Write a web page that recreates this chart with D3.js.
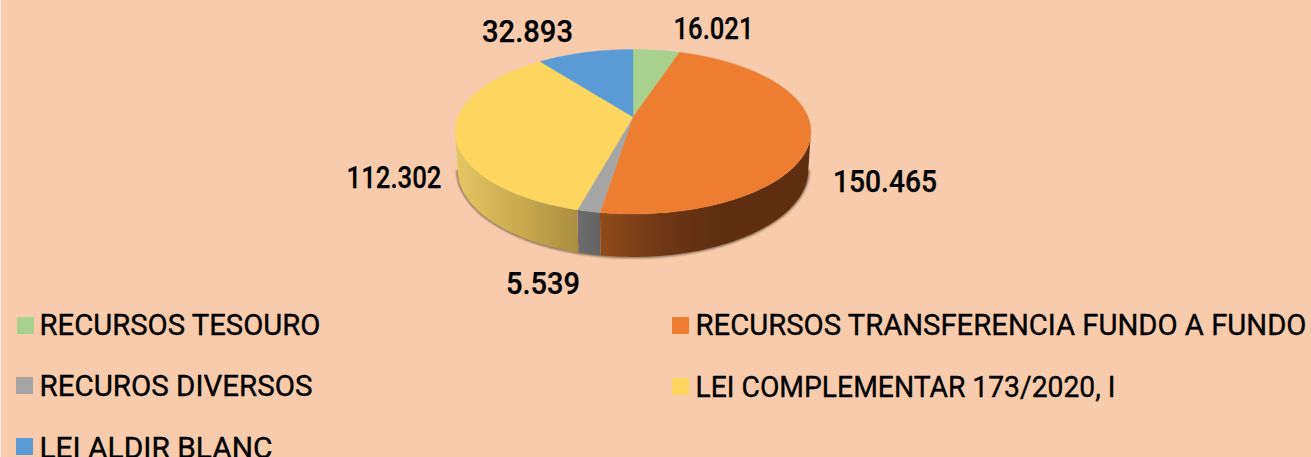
<!DOCTYPE html>
<html><head><meta charset="utf-8">
<script src="https://cdn.jsdelivr.net/npm/d3@7"></script>
<style>html,body{margin:0;padding:0;background:#fff}svg{display:block}</style></head>
<body><svg id="c" width="1311" height="457"></svg>
<script>
const categories=["RECURSOS TESOURO","RECURSOS TRANSFERENCIA FUNDO A FUNDO","RECUROS DIVERSOS","LEI COMPLEMENTAR 173/2020, I","LEI ALDIR BLANC"];
const values=[16021,150465,5539,112302,32893];
const valueLabels=["16.021","150.465","5.539","112.302","32.893"];
const colors=["#a9d18e","#ed7d31","#a5a5a5","#fcd65f","#5b9bd5"];

const svg=d3.select("#c");
const FONT="Roboto, sans-serif";
svg.append("rect").attr("width",1311).attr("height",457).attr("fill","#fdf3ec");
svg.append("rect").attr("x",1).attr("width",1310).attr("height",457).attr("fill","#f8cbad");
const defs=svg.append("defs");
defs.append("filter").attr("id","blur").attr("x","-10%").attr("y","-10%").attr("width","120%").attr("height","120%")
  .append("feGaussianBlur").attr("stdDeviation",1.3);

// perspective projection of the unit disc
const K=0.179;
const topPt=(a)=>{const u=Math.sin(a),v=-Math.cos(a),d=1-K*v;return [633+175*u/d,117+79.6*v/d];};
const botPt=(a)=>{const u=Math.sin(a),v=-Math.cos(a),d=1-K*v;return [633+172.5*u/d,154.5+84.1*v/d];};
const pie=d3.pie().sort(null).value(d=>d);
const arcs=pie(values);
const line=d3.line();
const samp=(a0,a1)=>{const n=Math.max(2,Math.ceil(Math.abs(a1-a0)/0.02));return d3.range(n+1).map(i=>a0+(a1-a0)*i/n);};

// silhouette angles (widest points of the top ellipse)
const aR=Math.acos(-K), aL=2*Math.PI-aR;

// shadow
const allFront=samp(aR,aL);
svg.append("path").attr("d",line([...allFront.map(botPt)]))
  .attr("fill","none").attr("stroke","#3c3020").attr("stroke-width",2.2).attr("opacity",0.75).attr("filter","url(#blur)");

// side walls
const walls=[
 {i:1,stops:[[0,"#8f4b1c"],[0.3,"#6f3715"],[0.55,"#5f2e11"],[1,"#5f2e11"]],x1:600,x2:811},
 {i:2,stops:[[0,"#6c6c6c"],[1,"#636363"]],x1:579,x2:601},
 {i:3,stops:[[0,"#e4c663"],[0.5,"#c9ab50"],[1,"#a98e42"]],x1:457,x2:579}
];
walls.forEach(w=>{
  const a=arcs[w.i];
  const s=Math.max(a.startAngle,aR), e=Math.min(a.endAngle,aL);
  const id="g"+w.i;
  const g=defs.append("linearGradient").attr("id",id).attr("gradientUnits","userSpaceOnUse")
    .attr("x1",w.x1).attr("x2",w.x2).attr("y1",0).attr("y2",0);
  w.stops.forEach(p=>g.append("stop").attr("offset",p[0]).attr("stop-color",p[1]));
  const as=samp(s,e);
  svg.append("path").attr("d",line([...as.map(topPt),...as.slice().reverse().map(botPt)])+"Z").attr("fill","url(#"+id+")");
});

// top slices
arcs.forEach((a,i)=>{
  const pts=samp(a.startAngle,a.endAngle).map(topPt);
  svg.append("path").attr("d",line([[633,117],...pts])+"Z").attr("fill",colors[i]).attr("stroke",colors[i]).attr("stroke-width",0.4);
});

// value labels: centre x, baseline, text width
const labelPos=[[713.5,39,80],[885,192,104],[543,294,74],[394,188,95],[527.5,42,91]];
valueLabels.forEach((t,i)=>{
  svg.append("text").attr("x",labelPos[i][0]).attr("y",labelPos[i][1]).attr("text-anchor","middle")
    .attr("font-family",FONT).attr("font-size",31).attr("font-weight",500).attr("fill","#000")
    .attr("stroke","#000").attr("stroke-width",0.25)
    .attr("textLength",labelPos[i][2]).attr("lengthAdjust","spacingAndGlyphs").text(t);
});

// legend: text x, swatch x, swatch y, baseline, text width
const legPos=[[39.5,17,317,335,281],[695.5,672,317,335,611],[39.5,16,377,396,273],[695.5,672,378,397,420],[39.5,16,438,458,233]];
categories.forEach((t,i)=>{
  const p=legPos[i];
  svg.append("rect").attr("x",p[1]).attr("y",p[2]).attr("width",17).attr("height",17).attr("fill",colors[i]);
  svg.append("text").attr("x",p[0]).attr("y",p[3]).attr("font-family",FONT).attr("font-size",29)
    .attr("font-weight",400).attr("fill","#000").attr("stroke","#000").attr("stroke-width",0.35)
    .attr("textLength",p[4]).attr("lengthAdjust","spacingAndGlyphs").text(t);
});
</script></body></html>
